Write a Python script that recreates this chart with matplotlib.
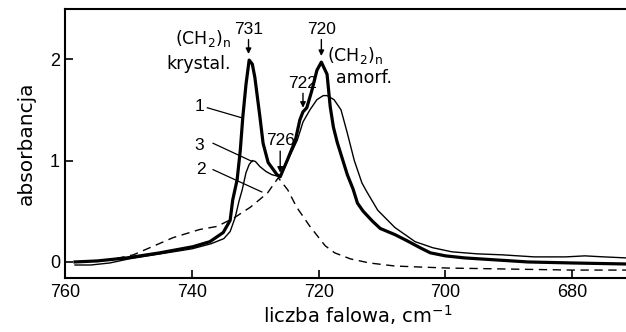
import matplotlib
matplotlib.use("Agg")
import matplotlib.pyplot as plt

plt.rcParams["mathtext.default"] = "regular"

# Curve 1 (thick)
x1 = [758.5, 755.0, 750.3, 745.1, 739.9, 737.2, 735.1, 734.0, 733.6, 732.9, 732.4,
      732.0, 731.5, 731.0, 730.5, 730.1, 729.3, 728.8, 728.0, 726.6, 726.1, 725.0,
      723.7, 723.0, 722.5, 721.9, 721.1, 720.3, 719.6, 718.7, 718.2, 717.7, 717.1,
      716.2, 715.5, 714.6, 713.9, 713.0, 711.5, 710.3, 708.0, 706.1, 704.0, 702.4,
      700.0, 697.0, 692.0, 687.0, 680.0, 671.5]
y1 = [0.00, 0.01, 0.04, 0.09, 0.15, 0.20, 0.29, 0.41, 0.61, 0.81, 1.10,
      1.43, 1.75, 1.99, 1.95, 1.82, 1.43, 1.17, 0.98, 0.86, 0.84, 1.00,
      1.20, 1.40, 1.48, 1.52, 1.69, 1.89, 1.97, 1.85, 1.53, 1.33, 1.18,
      1.00, 0.86, 0.72, 0.58, 0.50, 0.40, 0.33, 0.27, 0.21, 0.14, 0.09,
      0.06, 0.04, 0.02, 0.00, -0.01, -0.02]

# Curve 2 (dashed)
x2 = [758.5, 753.0, 749.3, 746.7, 743.0, 738.8, 736.1, 733.5, 730.8, 728.1, 726.4,
      724.9, 723.5, 721.4, 719.0, 717.5, 715.0, 712.0, 708.0, 704.0, 699.7, 690.0,
      680.0, 671.5]
y2 = [0.00, 0.02, 0.07, 0.14, 0.24, 0.32, 0.35, 0.43, 0.54, 0.68, 0.83,
      0.71, 0.54, 0.35, 0.16, 0.09, 0.03, -0.01, -0.04, -0.05, -0.06, -0.07,
      -0.08, -0.08]

# Curve 3 (thin)
x3 = [758.5, 756.0, 753.0, 750.0, 745.0, 740.0, 737.0, 735.0, 734.0, 733.2, 732.6,
      732.1, 731.5, 731.0, 730.5, 730.0, 729.3, 728.3, 727.4, 726.1, 725.0, 723.4,
      722.5, 721.4, 720.3, 719.3, 718.7, 717.6, 716.5, 715.5, 714.4, 713.2, 712.5,
      710.7, 708.0, 704.8, 702.0, 699.0, 695.0, 691.0, 686.0, 681.0, 678.0, 675.0,
      671.5]
y3 = [-0.03, -0.03, -0.01, 0.03, 0.08, 0.13, 0.18, 0.23, 0.30, 0.44, 0.60,
      0.71, 0.88, 0.96, 1.00, 0.99, 0.94, 0.89, 0.86, 0.84, 0.99, 1.20,
      1.38, 1.50, 1.60, 1.64, 1.64, 1.60, 1.50, 1.27, 1.00, 0.78, 0.70,
      0.51, 0.34, 0.20, 0.14, 0.10, 0.08, 0.07, 0.05, 0.05, 0.06, 0.05,
      0.04]

xticks = [760, 740, 720, 700, 680]
yticks = [0, 1, 2]

NUM = "Liberation Sans"
TXT = "DejaVu Sans"
fig = plt.figure(figsize=(6.26, 3.32), dpi=100)
ax = fig.add_axes([0.1046, 0.1627, 0.8954, 0.81])
ax.set_xlim(760, 671.5)
ax.set_ylim(-0.158, 2.493)

ax.plot(x1, y1, color="black", lw=2.3, solid_joinstyle="round")
ax.plot(x3, y3, color="black", lw=1.0)
ax.plot(x2, y2, color="black", lw=1.0, dashes=(6, 4))

for s in ["left", "bottom", "top"]:
    ax.spines[s].set_linewidth(1.5)
ax.spines["right"].set_visible(False)

ax.set_xticks(xticks)
ax.set_yticks(yticks)
ax.tick_params(direction="in", length=6, width=1.2, labelsize=13, pad=4)
for lab in ax.get_xticklabels() + ax.get_yticklabels():
    lab.set_fontfamily(NUM)
ax.set_xlabel("liczba falowa, cm$^{-1}$", fontsize=14, family=TXT, labelpad=1)
ax.xaxis.set_label_coords(0.522, -0.093, transform=ax.transAxes)
ax.xaxis.label.set_va("top")
ax.set_ylabel("absorbancja", fontsize=14.5, family=TXT, labelpad=10)

ap = dict(arrowstyle="-|>", color="black", lw=1.0, mutation_scale=8,
          shrinkA=0, shrinkB=0)
# peak labels with arrows
ax.annotate("731", xy=(731.1, 2.05), xytext=(731.1, 2.22), ha="center", va="bottom",
            fontsize=12.5, family=NUM, arrowprops=ap)
ax.annotate("720", xy=(719.6, 2.03), xytext=(719.6, 2.22), ha="center", va="bottom",
            fontsize=12.5, family=NUM, arrowprops=ap)
ax.annotate("726", xy=(726.1, 0.88), xytext=(726.1, 1.12), ha="center", va="bottom",
            fontsize=12.5, family=NUM, arrowprops=ap)
ax.annotate("722", xy=(722.5, 1.52), xytext=(722.5, 1.69), ha="center", va="bottom",
            fontsize=12.5, family=NUM, arrowprops=ap)

ax.text(738.3, 2.10, "(CH$_2$)$_n$", fontsize=12.5, family=TXT, ha="center", va="bottom")
ax.text(739.0, 1.86, "krystal.", fontsize=12.5, family=TXT, ha="center", va="bottom")
ax.text(714.2, 1.93, "(CH$_2$)$_n$", fontsize=12.5, family=TXT, ha="center", va="bottom")
ax.text(712.8, 1.72, "amorf.", fontsize=12.5, family=TXT, ha="center", va="bottom")

# curve labels with leader lines
ax.text(738.8, 1.53, "1", fontsize=12.5, family=NUM, ha="center", va="center")
ax.plot([737.6, 732.1], [1.52, 1.42], color="black", lw=0.9)
ax.text(738.9, 1.15, "3", fontsize=12.5, family=NUM, ha="center", va="center")
ax.plot([736.7, 730.5], [1.17, 0.99], color="black", lw=0.9)
ax.text(738.6, 0.91, "2", fontsize=12.5, family=NUM, ha="center", va="center")
ax.plot([736.7, 729.0], [0.91, 0.69], color="black", lw=0.9)

fig.savefig("out.png", dpi=100)
